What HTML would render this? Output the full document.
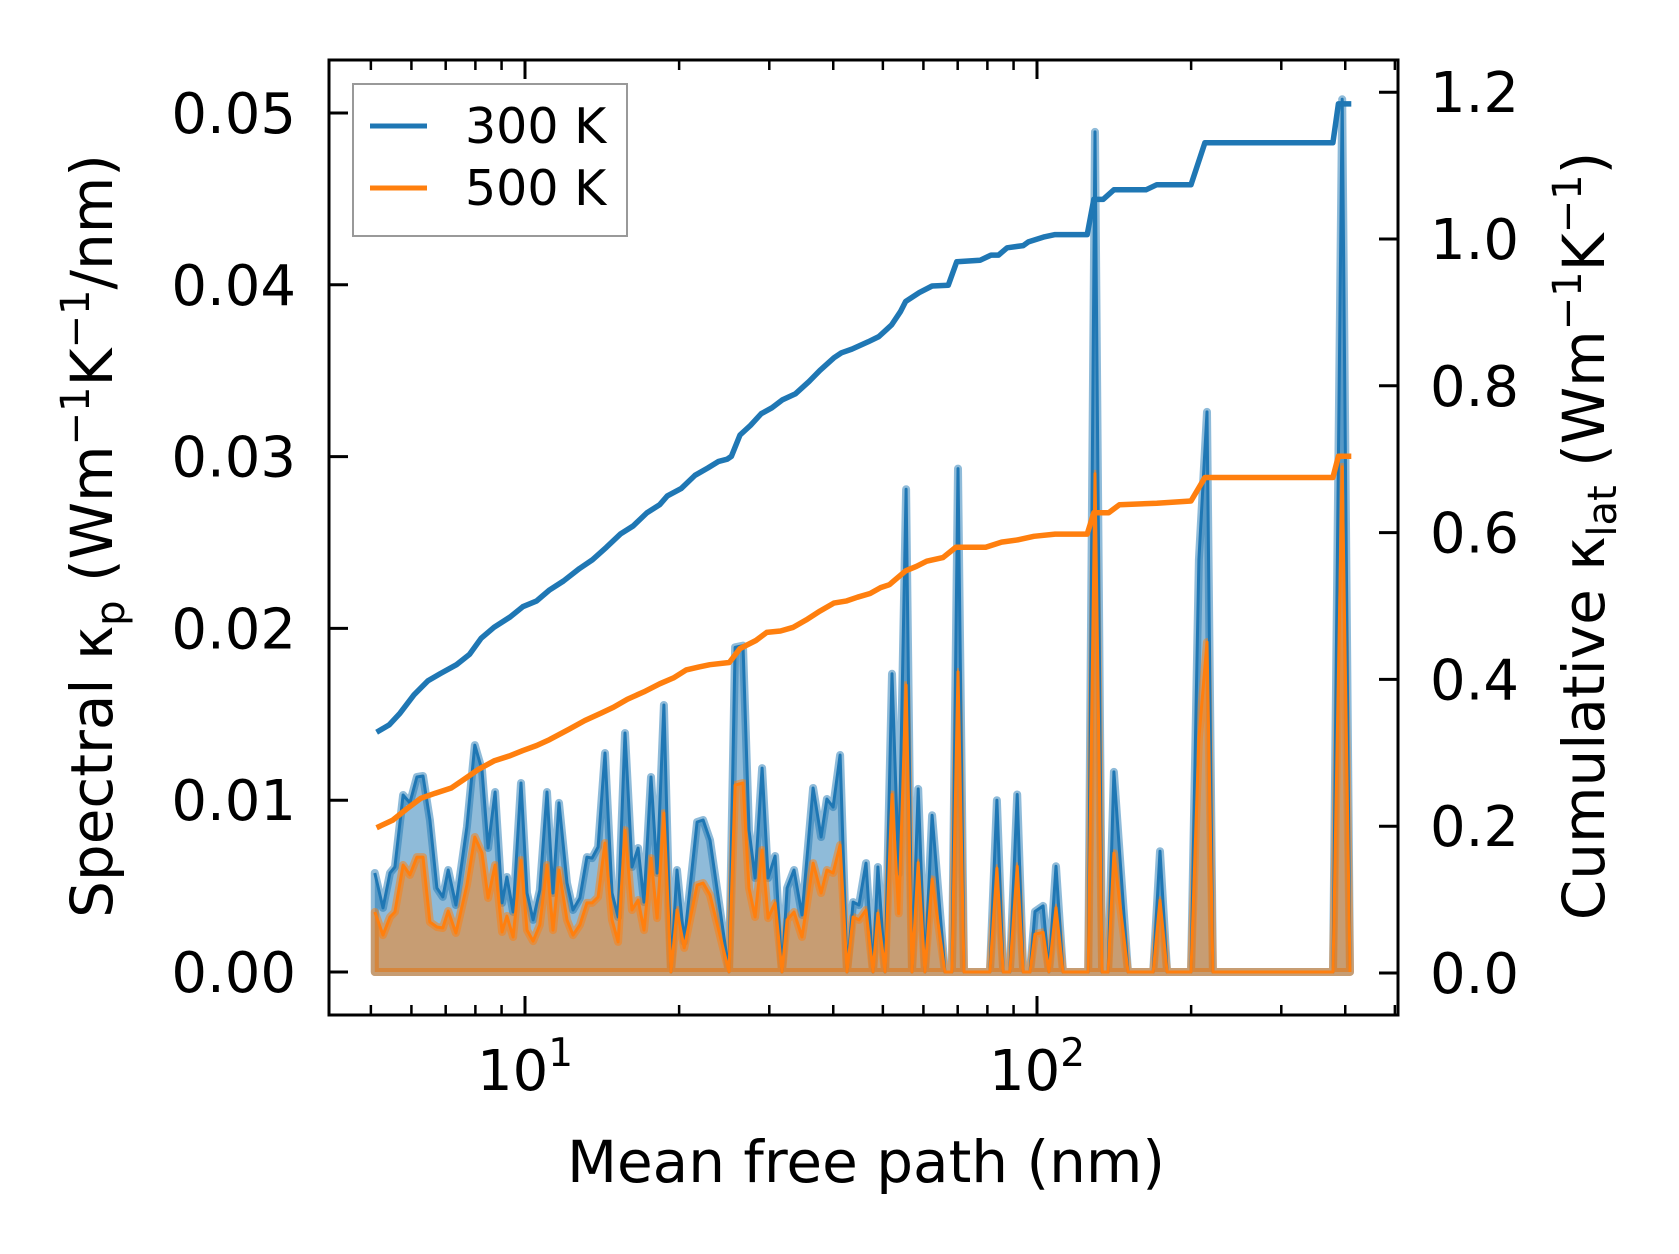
<!DOCTYPE html>
<html><head><meta charset="utf-8"><style>
html,body{margin:0;padding:0;background:#fff;}
svg{display:block;font-family:"DejaVu Sans","Liberation Sans",sans-serif;}
</style></head><body>
<svg id="chart" width="1679" height="1254" viewBox="0 0 1679 1254" xmlns="http://www.w3.org/2000/svg">
<rect x="0" y="0" width="1679" height="1254" fill="#fff"/>
<g id="marks"></g>
<g id="axes"></g>
<g>
<rect x="353" y="84" width="274" height="152" fill="#fff" fill-opacity="0.8" stroke="#999" stroke-width="2"/>
<line x1="370" y1="126" x2="427" y2="126" stroke="#1f77b4" stroke-width="5"/>
<text x="465" y="143" font-size="49">300 K</text>
<line x1="370" y1="188" x2="427" y2="188" stroke="#ff7f0e" stroke-width="5"/>
<text x="465" y="205" font-size="49">500 K</text>
</g>
<text x="866" y="1182" font-size="58" text-anchor="middle">Mean free path (nm)</text>
<text transform="translate(112,536) rotate(-90)" font-size="58" text-anchor="middle">Spectral κ<tspan font-size="40" dy="12">p</tspan><tspan dy="-12"> (Wm</tspan><tspan font-size="40" dy="-23">−1</tspan><tspan dy="23">K</tspan><tspan font-size="40" dy="-23">−1</tspan><tspan dy="23">/nm)</tspan></text>
<text transform="translate(1604,536) rotate(-90)" font-size="58" text-anchor="middle">Cumulative κ<tspan font-size="40" dy="12">lat</tspan><tspan dy="-12"> (Wm</tspan><tspan font-size="40" dy="-23">−1</tspan><tspan dy="23">K</tspan><tspan font-size="40" dy="-23">−1</tspan><tspan dy="23">)</tspan></text>
</svg>
<script>
const mfp = [5.09,5.28,5.45,5.57,5.78,5.96,6.15,6.32,6.52,6.73,6.91,7.08,7.33,7.70,7.98,8.24,8.47,8.74,9.02,9.22,9.48,9.82,10.09,10.37,10.69,11.04,11.34,11.65,12.08,12.41,12.80,13.21,13.52,13.89,14.33,14.79,15.20,15.68,16.18,16.63,17.08,17.62,18.11,18.68,19.28,19.81,20.46,21.68,22.28,22.98,25.03,25.72,26.66,27.39,28.14,29.04,29.84,30.79,31.77,32.50,33.53,34.75,36.53,37.88,38.87,39.97,41.25,42.56,43.73,44.90,46.35,47.83,48.90,50.5,52.1,53.7,55.5,57.0,58.6,60.4,62.4,66.1,68.2,70.1,72.0,80.9,83.5,85.9,88.5,91.5,94.0,96.9,99.1,102.8,105.5,108.9,112.4,125.9,129.8,134.0,137.7,141.3,150.6,168.6,173.9,179.5,199.9,207.1,214.8,220.6,378.6,394.5,408.6];
const spec300 = [0.00576,0.00373,0.00576,0.00611,0.0103,0.00984,0.01135,0.01141,0.00885,0.00489,0.00437,0.00594,0.0039,0.00844,0.01321,0.01176,0.00722,0.01048,0.00402,0.00553,0.00349,0.011,0.0046,0.00303,0.00477,0.01048,0.0046,0.00984,0.00518,0.00361,0.00431,0.00669,0.00663,0.00728,0.01275,0.0046,0.0032,0.01391,0.00611,0.00722,0.00407,0.01135,0.00576,0.01554,0,0.00594,0.00175,0.00873,0.00885,0.00768,0,0.0189,0.019,0.00826,0.00547,0.01187,0.00547,0.00675,0,0.00489,0.00594,0.00332,0.01071,0.00786,0.01007,0.0096,0.01263,0,0.00407,0.0039,0.00634,0,0.00611,0,0.01736,0.00571,0.0281,0,0.01066,0,0.00912,0,0,0.0293,0,0,0.0100,0,0,0.01033,0,0,0.00352,0.00385,0,0.00615,0,0,0.0489,0,0,0.01165,0,0,0.00703,0,0,0.024,0.0326,0,0,0.0508,0];
const spec500 = [0.00349,0.00215,0.0032,0.00349,0.00623,0.00565,0.00669,0.00669,0.00291,0.00262,0.00256,0.00355,0.00227,0.00506,0.00786,0.00693,0.00431,0.00623,0.00233,0.00326,0.00204,0.00652,0.00244,0.0018,0.00274,0.00623,0.00244,0.00594,0.00303,0.00215,0.00274,0.00402,0.00402,0.00437,0.00751,0.00303,0.00175,0.00826,0.00361,0.00419,0.00244,0.00663,0.00314,0.00925,0,0.00361,0.0014,0.00506,0.00518,0.00448,0,0.01088,0.011,0.00489,0.0032,0.0071,0.00314,0.00402,0,0.00303,0.00349,0.00204,0.00634,0.0046,0.00594,0.00576,0.00739,0,0.0032,0.00303,0.00361,0,0.00343,0,0.01033,0.00341,0.0167,0,0.00637,0,0.00539,0,0,0.01747,0,0,0.00604,0,0,0.00615,0,0,0.0022,0.00231,0,0.00374,0,0,0.029,0,0,0.00692,0,0,0.00418,0,0,0.0136,0.0192,0,0,0.0294,0];
const cumMfp300 = [5.13,5.43,5.70,6.07,6.46,6.84,7.35,7.79,8.21,8.70,9.35,9.90,10.54,11.17,11.89,12.77,13.54,14.42,15.35,16.26,17.30,18.33,18.96,20.18,21.48,22.75,23.88,24.83,25.30,26.30,27.57,28.93,30.36,31.85,33.73,35.89,37.67,40.1,41.5,43.5,46.8,49.1,52.0,54.1,55.4,58.9,62.4,67.1,69.7,77.4,81.3,84.1,87.4,94.0,96.2,103.5,108.5,125.3,129.1,134.6,141.3,163.3,171.4,199.9,212.8,378.4,387.8,411.0];
const cum300 = [0.328,0.338,0.354,0.379,0.398,0.408,0.420,0.434,0.456,0.471,0.485,0.499,0.507,0.522,0.534,0.551,0.563,0.580,0.598,0.609,0.627,0.638,0.650,0.660,0.678,0.688,0.697,0.700,0.704,0.733,0.746,0.762,0.770,0.781,0.789,0.806,0.821,0.838,0.845,0.850,0.860,0.867,0.883,0.901,0.915,0.927,0.936,0.937,0.969,0.971,0.978,0.978,0.988,0.991,0.996,1.003,1.006,1.006,1.054,1.054,1.067,1.067,1.074,1.074,1.131,1.131,1.184,1.184];
const cumMfp500 = [5.13,5.51,5.86,6.26,6.68,7.18,7.61,8.09,8.70,9.35,9.90,10.54,11.17,12.18,13.09,14.06,14.89,15.85,17.06,18.33,19.50,20.65,21.88,22.96,25.06,26.30,28.25,29.65,31.55,33.42,35.42,37.67,40.1,42.5,44.6,47.2,49.5,51.5,55.4,58.1,60.9,65.5,69.4,79.4,85.3,91.6,98.6,108.5,125.3,129.1,138.0,144.9,171.4,199.9,212.8,378.4,387.8,411.0];
const cum500 = [0.198,0.208,0.223,0.238,0.245,0.252,0.264,0.277,0.289,0.296,0.303,0.310,0.318,0.332,0.344,0.354,0.362,0.373,0.383,0.394,0.402,0.413,0.417,0.420,0.423,0.442,0.453,0.464,0.466,0.471,0.481,0.493,0.504,0.507,0.512,0.517,0.525,0.529,0.548,0.554,0.561,0.566,0.580,0.580,0.587,0.590,0.595,0.598,0.598,0.627,0.627,0.638,0.640,0.643,0.675,0.675,0.704,0.704];
const leftTicks = [0, 0.01, 0.02, 0.03, 0.04, 0.05];
const leftTickLabels = ["0.00","0.01","0.02","0.03","0.04","0.05"];
const rightTicks = [0, 0.2, 0.4, 0.6, 0.8, 1.0, 1.2];
const rightTickLabels = ["0.0","0.2","0.4","0.6","0.8","1.0","1.2"];
const xMajorTicks = [10, 100];
const xMajorExp = ["1","2"];

const NS = "http://www.w3.org/2000/svg";
const L = 329, R = 1398, T = 60, B = 1015;
const xs = v => 525 + (Math.log10(v) - 1) * 512;
const yl = v => 972 - v * 17180;
const yr = v => 973 - v * 734;
function mk(tag, attrs, parent) {
  const e = document.createElementNS(NS, tag);
  for (const k in attrs) e.setAttribute(k, attrs[k]);
  parent.appendChild(e);
  return e;
}
const marks = document.getElementById('marks');
const axes = document.getElementById('axes');

function spectral(vals, color, name) {
  let pts = mfp.map((m, i) => xs(m).toFixed(1) + ',' + yl(vals[i]).toFixed(1));
  const area = 'M' + xs(mfp[0]).toFixed(1) + ',' + yl(0) + ' L' + pts.join(' L') + ' L' + xs(mfp[mfp.length-1]).toFixed(1) + ',' + yl(0) + ' Z';
  const a = mk('path', {d: area, fill: color, 'fill-opacity': 0.5, stroke: color, 'stroke-opacity': 0.5, 'stroke-width': 8, 'stroke-linejoin': 'round'}, marks);
  
  
  return pts;
}
const p300 = spectral(spec300, '#1f77b4', 'spectral-300k');
const p500 = spectral(spec500, '#ff7f0e', 'spectral-500k');
const l1 = mk('polyline', {points: p300.join(' '), fill: 'none', stroke: '#1f77b4', 'stroke-width': 3, 'stroke-linejoin': 'round'}, marks);


const l2 = mk('polyline', {points: p500.join(' '), fill: 'none', stroke: '#ff7f0e', 'stroke-width': 3, 'stroke-linejoin': 'round'}, marks);



const c1 = mk('polyline', {points: cumMfp300.map((m, i) => xs(m).toFixed(1) + ',' + yr(cum300[i]).toFixed(1)).join(' '), fill: 'none', stroke: '#1f77b4', 'stroke-width': 5.5, 'stroke-linejoin': 'round'}, marks);


const c2 = mk('polyline', {points: cumMfp500.map((m, i) => xs(m).toFixed(1) + ',' + yr(cum500[i]).toFixed(1)).join(' '), fill: 'none', stroke: '#ff7f0e', 'stroke-width': 5.5, 'stroke-linejoin': 'round'}, marks);



const fr = mk('rect', {x: L, y: T, width: R - L, height: B - T, fill: 'none', stroke: '#000', 'stroke-width': 3}, axes);



leftTicks.forEach((v, i) => {
  const y = yl(v);
  const t = mk('line', {x1: L, x2: L + 19, y1: y, y2: y, stroke: '#000', 'stroke-width': 3}, axes);
  
  
  const tx = mk('text', {x: 296, y: y + 20, 'font-size': 56, 'text-anchor': 'end'}, axes);
  tx.textContent = leftTickLabels[i];
  
  
});
rightTicks.forEach((v, i) => {
  const y = yr(v);
  const t = mk('line', {x1: R - 19, x2: R, y1: y, y2: y, stroke: '#000', 'stroke-width': 3}, axes);
  
  
  const tx = mk('text', {x: 1430, y: y + 20, 'font-size': 56}, axes);
  tx.textContent = rightTickLabels[i];
  
  
});
for (let d = 0; d <= 2; d++) {
  for (let k = 2; k <= 9; k++) {
    const v = k * Math.pow(10, d);
    const x = xs(v);
    if (x <= L + 2 || x >= R - 2) continue;
    [[B, B - 10], [T, T + 10]].forEach(p => {
      const t = mk('line', {x1: x, x2: x, y1: p[0], y2: p[1], stroke: '#000', 'stroke-width': 2.5}, axes);
      
      
    });
  }
}
xMajorTicks.forEach((v, i) => {
  const x = xs(v);
  [[B, B - 19], [T, T + 19]].forEach(p => {
    const t = mk('line', {x1: x, x2: x, y1: p[0], y2: p[1], stroke: '#000', 'stroke-width': 3}, axes);
    
    
  });
  const tx = mk('text', {x: x, y: 1090, 'font-size': 56, 'text-anchor': 'middle'}, axes);
  
  
  const s1 = mk('tspan', {}, tx); s1.textContent = '10';
  const s2 = mk('tspan', {'font-size': 39, dy: -24}, tx); s2.textContent = xMajorExp[i];
});
</script>
</body></html>
